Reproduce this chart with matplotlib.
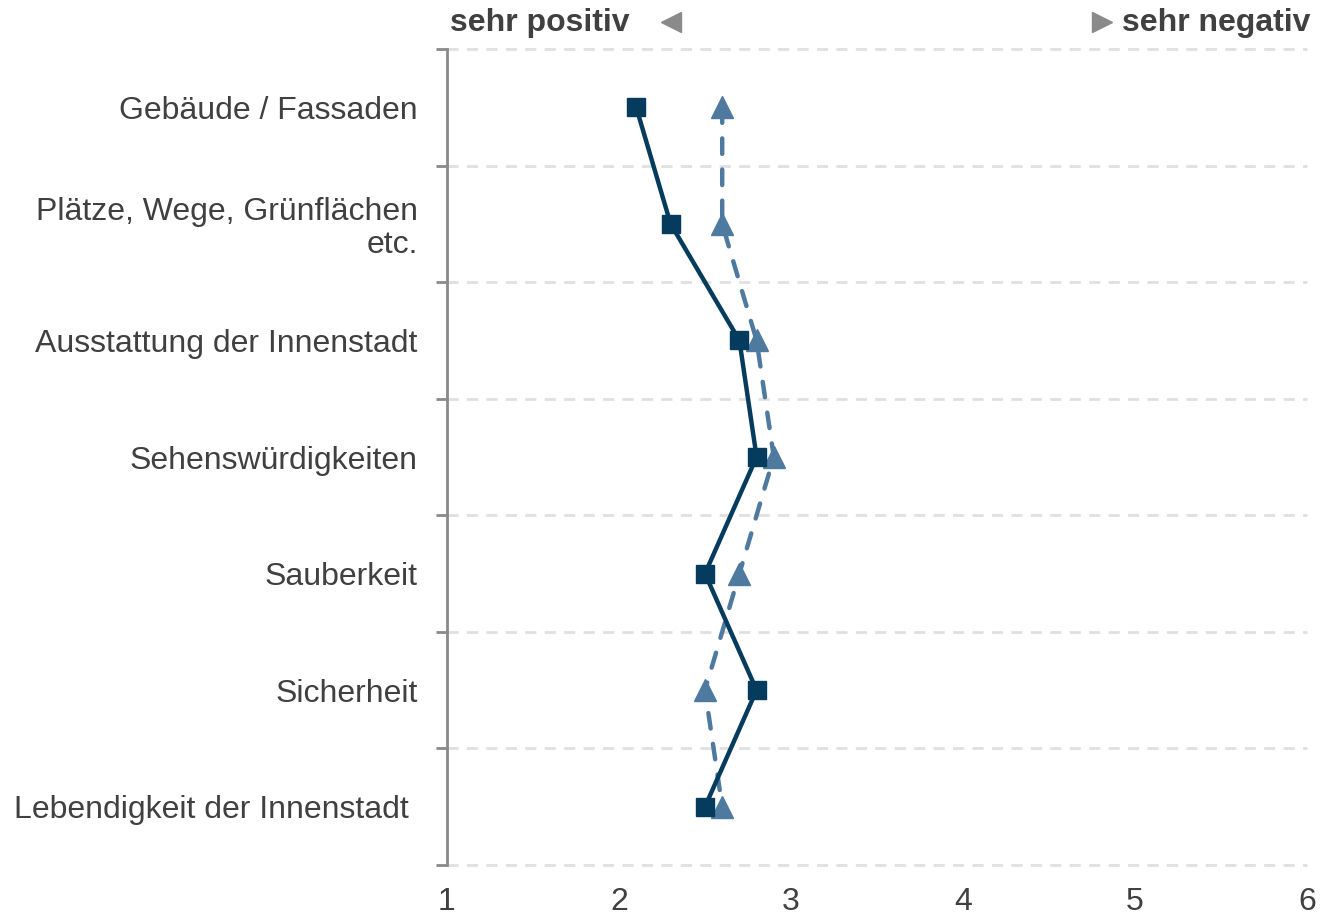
import numpy as np
import matplotlib.pyplot as plt

plt.rcParams['font.family'] = ['Liberation Sans', 'DejaVu Sans']

categories = ['Gebäude / Fassaden', 'Plätze, Wege, Grünflächen\netc.',
              'Ausstattung der Innenstadt', 'Sehenswürdigkeiten', 'Sauberkeit',
              'Sicherheit', 'Lebendigkeit der Innenstadt ']
serie_a = [2.1, 2.3, 2.7, 2.8, 2.5, 2.8, 2.5]
serie_b = [2.6, 2.6, 2.8, 2.9, 2.7, 2.5, 2.6]
xticks = [1, 2, 3, 4, 5, 6]

dark = '#053c5e'
light = '#4f7aa0'
txt = '#404040'

fig = plt.figure(figsize=(13.2, 9.18), dpi=100)
ax = fig.add_axes([447/1320, 1-865/918, 860/1320, 816/918])

n = len(categories)
y = np.arange(n) + 0.5

ax.plot(serie_b, y, color=light, lw=3.2, ls=(0, (3.5, 3.5)), marker='^',
        ms=16, mec=light, mfc=light, zorder=3, dash_capstyle='round')
ax.plot(serie_a, y, color=dark, lw=3.2, marker='s', ms=13, zorder=4)

ax.set_xlim(1, 6)
ax.set_ylim(n, 0)

for b in range(n + 1):
    ax.axhline(b, color='#e0e0e0', lw=2, ls=(0, (4, 3)), zorder=0, clip_on=False)

ax.set_yticks(np.arange(n + 1))
ax.set_yticklabels([])
ax.tick_params(axis='y', which='major', length=8, width=2, color='#8a8a8a')
ax.set_yticks(y, minor=True)
ax.set_yticklabels(categories, minor=True, fontsize=23, color=txt,
                   linespacing=1.1)
ax.tick_params(axis='y', which='minor', length=0, pad=21)

ax.set_xticks(xticks)
ax.set_xticklabels([str(v) for v in xticks], fontsize=23, color=txt)
ax.tick_params(axis='x', length=0, pad=16)

for s in ['top', 'right', 'bottom']:
    ax.spines[s].set_visible(False)
ax.spines['left'].set_color('#8a8a8a')
ax.spines['left'].set_linewidth(2)

fig.text(450/1320, 1-23/918, 'sehr positiv', fontsize=23, fontweight='bold',
         color=txt, ha='left', va='center')
fig.text(1310/1320, 1-23/918, 'sehr negativ', fontsize=23, fontweight='bold',
         color=txt, ha='right', va='center')
fig.lines.append(plt.Line2D([671/1320], [1-22/918], marker='<', ms=15,
                            color='#8a8a8a', ls='none', transform=fig.transFigure))
fig.lines.append(plt.Line2D([1102/1320], [1-22/918], marker='>', ms=15,
                            color='#8a8a8a', ls='none', transform=fig.transFigure))

fig.savefig('out.png', dpi=100)
